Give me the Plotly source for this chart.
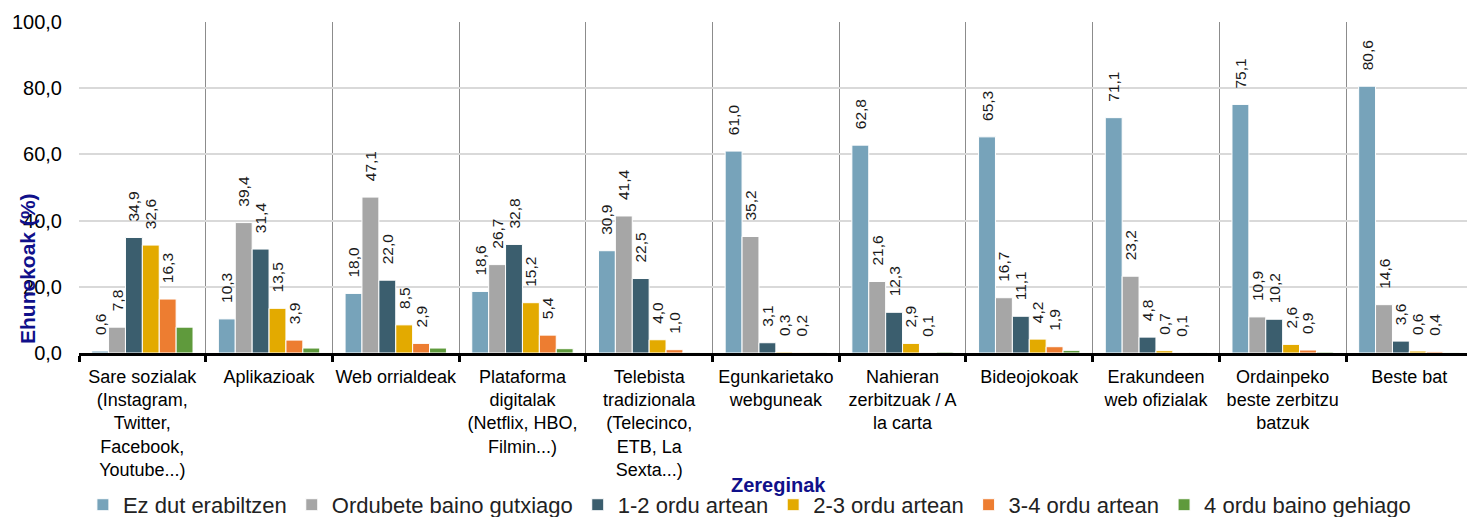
import plotly.graph_objects as go

categories = [
    "Sare sozialak<br>(Instagram,<br>Twitter,<br>Facebook,<br>Youtube...)",
    "Aplikazioak",
    "Web orrialdeak",
    "Plataforma<br>digitalak<br>(Netflix, HBO,<br>Filmin...)",
    "Telebista<br>tradizionala<br>(Telecinco,<br>ETB, La<br>Sexta...)",
    "Egunkarietako<br>webguneak",
    "Nahieran<br>zerbitzuak / A<br>la carta",
    "Bideojokoak",
    "Erakundeen<br>web ofizialak",
    "Ordainpeko<br>beste zerbitzu<br>batzuk",
    "Beste bat",
]

series_names = [
    "Ez dut erabiltzen",
    "Ordubete baino gutxiago",
    "1-2 ordu artean",
    "2-3 ordu artean",
    "3-4 ordu artean",
    "4 ordu baino gehiago",
]

ez_dut = [0.6, 10.3, 18.0, 18.6, 30.9, 61.0, 62.8, 65.3, 71.1, 75.1, 80.6]
ordubete = [7.8, 39.4, 47.1, 26.7, 41.4, 35.2, 21.6, 16.7, 23.2, 10.9, 14.6]
ordu_1_2 = [34.9, 31.4, 22.0, 32.8, 22.5, 3.1, 12.3, 11.1, 4.8, 10.2, 3.6]
ordu_2_3 = [32.6, 13.5, 8.5, 15.2, 4.0, 0.3, 2.9, 4.2, 0.7, 2.6, 0.6]
ordu_3_4 = [16.3, 3.9, 2.9, 5.4, 1.0, 0.2, 0.1, 1.9, 0.1, 0.9, 0.4]
ordu_4_plus = [7.8, 1.5, 1.5, 1.3, 0.2, 0.2, 0.3, 0.8, 0.1, 0.3, 0.2]

series_values = [ez_dut, ordubete, ordu_1_2, ordu_2_3, ordu_3_4, ordu_4_plus]
show_labels = [True, True, True, True, True, False]
colors = ["#77a3ba", "#a6a6a6", "#3b5e6e", "#e3aa00", "#ed7d31", "#5f9a3c"]

y_ticks = [0, 20, 40, 60, 80, 100]
y_tick_labels = ["0,0", "20,0", "40,0", "60,0", "80,0", "100,0"]

FONT = "Liberation Sans, Arial, sans-serif"
PAD = "\u00a0\u00a0\u00a0"

fig = go.Figure()
for name, vals, lab, col in zip(series_names, series_values, show_labels, colors):
    texts = [PAD + f"{v:.1f}".replace(".", ",") if lab else "" for v in vals]
    fig.add_trace(go.Bar(
        x=categories, y=vals, name=name,
        marker=dict(color=col, line=dict(color="white", width=1)),
        text=texts, textposition="outside", textangle=-90,
        textfont=dict(family=FONT, size=15.5, color="#1a1a1a"),
        cliponaxis=False, constraintext="none",
    ))

fig.update_layout(
    width=1467, height=517,
    margin=dict(l=79, r=0, t=22, b=164, autoexpand=False),
    barmode="group", bargap=0.2, bargroupgap=0,
    plot_bgcolor="white", paper_bgcolor="white",
    font=dict(family=FONT, color="#000000"),
    showlegend=True, hovermode=False,
    legend=dict(orientation="h", x=0.483, xanchor="center", y=-0.459, yanchor="middle",
                font=dict(family=FONT, size=22, color="#222222"),
                itemwidth=30, tracegroupgap=0),
    xaxis=dict(
        type="category", range=[-0.5, 10.455], automargin=False, tickangle=0,
        tickson="boundaries", ticks="outside", ticklen=6, tickwidth=3, tickcolor="#000000",
        ticklabelstandoff=5,
        showline=True, linecolor="#000000", linewidth=3,
        showgrid=True, gridcolor="#8c8c8c", gridwidth=1,
        tickfont=dict(family=FONT, size=18, color="#000000"),
    ),
    yaxis=dict(
        range=[0, 100], tickvals=y_ticks, ticktext=y_tick_labels, automargin=False,
        showgrid=True, gridcolor="#d9d9d9", gridwidth=2,
        zeroline=False, showline=False, ticks="outside", ticklen=12, tickcolor="rgba(0,0,0,0)",
        tickfont=dict(family=FONT, size=20, color="#000000"),
    ),
    annotations=[
        dict(text="<b>Ehunekoak (%)</b>", xref="paper", yref="paper", x=-0.0367, y=0.254,
             xanchor="center", yanchor="middle", textangle=-90, showarrow=False,
             font=dict(family=FONT, size=21, color="#10108a")),
        dict(text="<b>Zereginak</b>", xref="paper", yref="paper", x=0.504, y=-0.399,
             xanchor="center", yanchor="middle", showarrow=False,
             font=dict(family=FONT, size=20, color="#10108a")),
    ],
)

fig.write_html("out.html", config={"displayModeBar": False},
               post_script="document.body.style.margin='0';document.body.style.overflow='hidden';")
